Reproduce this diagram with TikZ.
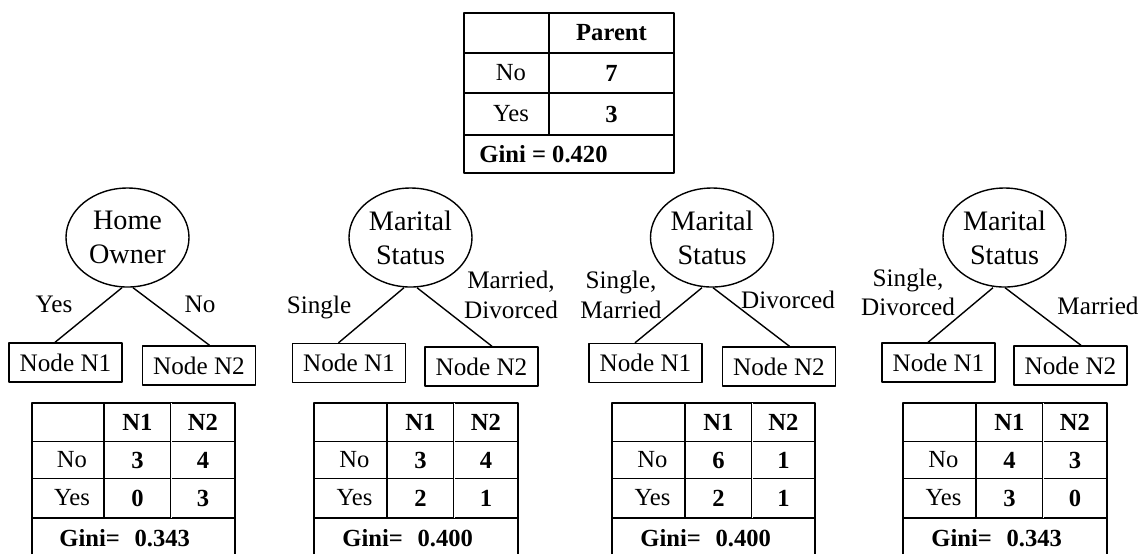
\documentclass[tikz,border=0pt]{standalone}
\usepackage{fontspec}
\setmainfont{Liberation Serif}
\usepackage{tikz}
\usetikzlibrary{shapes.geometric,calc}

\begin{document}
\begin{tikzpicture}[x=0.5pt,y=-0.5pt,line join=round,
  ln/.style={line width=0.7pt},
  dbl/.style={line width=0.45pt,double,double distance=0.4pt},
  ell/.style={ellipse,draw,line width=0.7pt,minimum width=61.5pt,minimum height=49.5pt,inner sep=0pt,align=center,font=\fontsize{14.1}{17}\selectfont},
  box/.style={rectangle,draw,line width=0.7pt,minimum width=56.5pt,minimum height=19.5pt,inner sep=0pt,font=\fontsize{12.6}{14.7}\selectfont},
  lbl/.style={align=center,inner sep=0pt,font=\fontsize{12.6}{14.7}\selectfont},
  cell/.style={inner sep=0pt,font=\fontsize{12.3}{14}\selectfont},
  num/.style={inner sep=0pt,font=\fontsize{12.3}{14}\selectfont\bfseries}]
  \useasboundingbox (0,0) rectangle (1148,554);
  % parent table
  \draw[ln] (464,13) rectangle (674,173);
  \draw[ln] (464,53) -- (674,53);
  \draw[ln] (464,93) -- (674,93);
  \draw[ln] (464,135) -- (674,135);
  \draw[ln] (549,13) -- (549,135);
  \node[num] (pHead) at (611.5,33) {Parent};
  \node[cell] (pNo) at (511,73) {No};
  \node[num] (pNoV) at (611.5,73) {7};
  \node[cell] (pYes) at (511,114) {Yes};
  \node[num] (pYesV) at (611.5,114) {3};
  \node[num,anchor=west] (pGini) at (479,154) {Gini = 0.420};
  % split on Home Owner
  \node[ell] (hRoot) at (127.5,237.5) {Home\\Owner};
  \node[box] (hN1) at (65.5,362.5) {Node N1};
  \node[box] (hN2) at (199,365.5) {Node N2};
  \draw[ln] ([xshift=-2.75pt]hRoot.south) -- ([xshift=-5.25pt]hN1.north);
  \draw[ln] ([xshift=2.75pt]hRoot.south) -- ([xshift=5.25pt]hN2.north);
  \node[lbl] (hYes) at (54,304.6) {Yes};
  \node[lbl] (hNo) at (200,304.6) {No};
  \draw[ln] (32,554) -- (32,403) -- (235,403) -- (235,554);
  \draw[ln] (32,441.5) -- (235,441.5);
  \draw[ln] (32,478.5) -- (235,478.5);
  \draw[ln] (32,518) -- (235,518);
  \draw[ln] (104,403) -- (104,518);
  \draw[dbl] (171,403) -- (171,518);
  \node[num] (hH1) at (137.5,422) {N1};
  \node[num] (hH2) at (203,422) {N2};
  \node[cell] (hRNo) at (72,460) {No};
  \node[num] (hA) at (137.5,460) {3};
  \node[num] (hB) at (203,460) {4};
  \node[cell] (hRYes) at (72,498) {Yes};
  \node[num] (hC) at (137.5,498) {0};
  \node[num] (hD) at (203,498) {3};
  \node[num,anchor=west] (hGini) at (59,538.5) {Gini=\hspace{0.6em}0.343};
  % split on Marital Status (1)
  \node[ell] (aRoot) at (410.5,237.5) {Marital\\Status};
  \node[box] (aN1) at (349,363) {Node N1};
  \node[box] (aN2) at (481.5,366.5) {Node N2};
  \draw[ln] ([xshift=-3.25pt]aRoot.south) -- ([xshift=-5.25pt]aN1.north);
  \draw[ln] ([xshift=3.25pt]aRoot.south) -- ([xshift=5.25pt]aN2.north);
  \node[lbl] (aL) at (319,307) {Single};
  \node[lbl] (aR) at (511,295) {Married,\\Divorced};
  \draw[ln] (314,554) -- (314,403) -- (518,403) -- (518,554);
  \draw[ln] (314,441.5) -- (518,441.5);
  \draw[ln] (314,478.5) -- (518,478.5);
  \draw[ln] (314,518) -- (518,518);
  \draw[ln] (387,403) -- (387,518);
  \draw[dbl] (454,403) -- (454,518);
  \node[num] (aH1) at (420.5,422) {N1};
  \node[num] (aH2) at (486,422) {N2};
  \node[cell] (aRNo) at (354.5,460) {No};
  \node[num] (aA) at (420.5,460) {3};
  \node[num] (aB) at (486,460) {4};
  \node[cell] (aRYes) at (354.5,498) {Yes};
  \node[num] (aC) at (420.5,498) {2};
  \node[num] (aD) at (486,498) {1};
  \node[num,anchor=west] (aGini) at (342,538.5) {Gini=\hspace{0.6em}0.400};
  % split on Marital Status (2)
  \node[ell] (bRoot) at (712,237.5) {Marital\\Status};
  \node[box] (bN1) at (645.5,363) {Node N1};
  \node[box] (bN2) at (779,366.5) {Node N2};
  \draw[ln] ([xshift=-5pt]bRoot.south) -- ([xshift=-5.25pt]bN1.north);
  \draw[ln] ([xshift=0.5pt]bRoot.south) -- ([xshift=5.25pt]bN2.north);
  \node[lbl] (bL) at (621,295) {Single,\\Married};
  \node[lbl] (bR) at (788,299.4) {Divorced};
  \draw[ln] (612,554) -- (612,403) -- (815,403) -- (815,554);
  \draw[ln] (612,441.5) -- (815,441.5);
  \draw[ln] (612,478.5) -- (815,478.5);
  \draw[ln] (612,518) -- (815,518);
  \draw[ln] (685,403) -- (685,518);
  \draw[dbl] (752,403) -- (752,518);
  \node[num] (bH1) at (718.5,422) {N1};
  \node[num] (bH2) at (783.5,422) {N2};
  \node[cell] (bRNo) at (652.5,460) {No};
  \node[num] (bA) at (718.5,460) {6};
  \node[num] (bB) at (783.5,460) {1};
  \node[cell] (bRYes) at (652.5,498) {Yes};
  \node[num] (bC) at (718.5,498) {2};
  \node[num] (bD) at (783.5,498) {1};
  \node[num,anchor=west] (bGini) at (640,538.5) {Gini=\hspace{0.6em}0.400};
  % split on Marital Status (3)
  \node[ell] (cRoot) at (1004.5,237.5) {Marital\\Status};
  \node[box] (cN1) at (938.5,362.5) {Node N1};
  \node[box] (cN2) at (1070.5,365.5) {Node N2};
  \draw[ln] ([xshift=-5.75pt]cRoot.south) -- ([xshift=-5.25pt]cN1.north);
  \draw[ln] ([xshift=0.25pt]cRoot.south) -- ([xshift=5.25pt]cN2.north);
  \node[lbl] (cL) at (908,292.4) {Single,\\Divorced};
  \node[lbl] (cR) at (1098,305.4) {Married};
  \draw[ln] (903,554) -- (903,403) -- (1107,403) -- (1107,554);
  \draw[ln] (903,441.5) -- (1107,441.5);
  \draw[ln] (903,478.5) -- (1107,478.5);
  \draw[ln] (903,518) -- (1107,518);
  \draw[ln] (976,403) -- (976,518);
  \draw[dbl] (1043,403) -- (1043,518);
  \node[num] (cH1) at (1009.5,422) {N1};
  \node[num] (cH2) at (1075,422) {N2};
  \node[cell] (cRNo) at (943.5,460) {No};
  \node[num] (cA) at (1009.5,460) {4};
  \node[num] (cB) at (1075,460) {3};
  \node[cell] (cRYes) at (943.5,498) {Yes};
  \node[num] (cC) at (1009.5,498) {3};
  \node[num] (cD) at (1075,498) {0};
  \node[num,anchor=west] (cGini) at (931,538.5) {Gini=\hspace{0.6em}0.343};
\end{tikzpicture}
\end{document}
